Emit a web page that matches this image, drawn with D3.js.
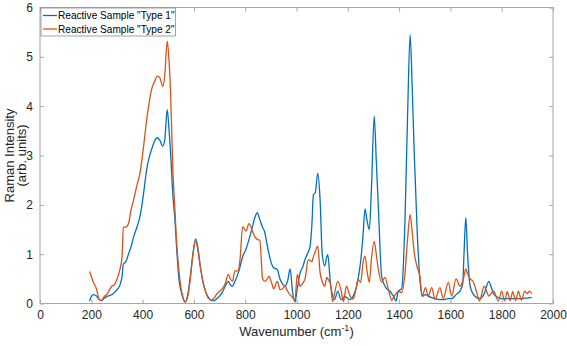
<!DOCTYPE html>
<html><head><meta charset="utf-8">
<script src="https://cdn.jsdelivr.net/npm/d3@7"></script>
<style>body{margin:0;background:#fff}svg{display:block}text{font-family:"Liberation Sans",Arial,sans-serif}</style>
</head><body>
<svg id="c" width="567" height="346"></svg>
<script>
const wavenumber = [193,200,208,220,231,240,250,260,270,280,290,300,312,320,325,335,345,355,365,378,390,403,416,425,435,447,457,468,478,486,496,502,509,518,526,533,543,550,558,566,575,585,595,607,615,625,635,645,657,669,680,690,700,710,722,734,742,750,760,773,780,790,803,815,828,838,847,857,868,876,884,893,903,911,925,936,945,955,965,975,985,994,1003,1014,1025,1033,1046,1053,1060,1066,1073,1083,1092,1100,1110,1118,1122,1132,1141,1148,1161,1174,1183,1187,1195,1209,1221,1232,1240,1250,1260,1267,1276,1284,1292,1303,1311,1319,1332,1345,1358,1365,1371,1378,1388,1397,1410,1423,1433,1443,1451,1459,1471,1481,1490,1503,1514,1527,1540,1559,1572,1592,1605,1622,1637,1648,1653,1660,1667,1677,1688,1703,1713,1732,1741,1750,1758,1768,1787,1800,1811,1822,1833,1843,1854,1865,1877,1890,1900,1908,1917];
const type1 = [0.05,0.14,0.18,0.15,0.08,0.06,0.1,0.14,0.16,0.18,0.22,0.28,0.38,0.55,0.8,0.85,1.0,1.15,1.35,1.55,1.77,2.2,2.72,2.95,3.12,3.3,3.36,3.3,3.19,3.3,3.93,3.6,3.06,2.2,1.7,1.1,0.43,0.25,0.1,0.03,0.15,0.5,0.95,1.31,1.15,0.75,0.45,0.25,0.12,0.06,0.06,0.1,0.15,0.22,0.35,0.45,0.38,0.35,0.45,0.62,0.75,0.95,1.1,1.3,1.55,1.75,1.84,1.7,1.54,1.45,1.23,1.0,0.8,0.72,0.69,0.49,0.4,0.35,0.45,0.7,0.22,0.03,0.3,0.62,0.75,0.89,1.05,1.16,1.6,2.21,2.24,2.64,2.1,1.03,0.76,0.95,0.99,0.43,0.15,0.08,0.25,0.08,0.1,0.15,0.12,0.08,0.15,0.3,0.5,0.85,1.43,1.92,1.65,1.5,2.3,3.8,2.9,1.97,0.55,0.35,0.27,0.25,0.2,0.15,0.05,0.25,0.3,1.7,3.8,5.45,4.4,3.05,1.4,0.5,0.15,0.18,0.15,0.12,0.1,0.08,0.08,0.1,0.1,0.18,0.25,0.4,1.0,1.74,1.0,0.35,0.2,0.12,0.1,0.2,0.35,0.45,0.35,0.2,0.12,0.1,0.1,0.1,0.1,0.1,0.1,0.1,0.1,0.11,0.11,0.12,0.12];
const type2 = [0.65,0.55,0.43,0.3,0.08,0.06,0.14,0.18,0.27,0.35,0.38,0.49,0.7,0.95,1.55,1.55,1.62,1.9,2.1,2.4,2.65,3.15,3.73,4.05,4.34,4.5,4.61,4.57,4.4,4.6,5.32,5.0,4.3,2.7,1.9,1.2,0.6,0.3,0.12,0.03,0.12,0.45,0.95,1.27,1.1,0.75,0.45,0.25,0.1,0.07,0.12,0.2,0.25,0.3,0.4,0.59,0.5,0.45,0.66,0.66,0.9,1.56,1.47,1.62,1.47,1.35,1.3,1.28,0.5,0.45,0.48,0.55,0.42,0.3,0.45,0.28,0.3,0.35,0.25,0.18,0.12,0.07,0.59,0.35,0.42,0.49,0.89,0.87,0.85,0.95,1.05,1.16,0.62,0.45,0.35,0.53,0.5,0.4,0.04,0.2,0.45,0.26,0.04,0.15,0.35,0.15,0.09,0.3,0.49,0.43,0.85,0.96,0.62,0.43,0.9,1.26,1.0,0.69,0.43,0.53,0.29,0.15,0.06,0.12,0.2,0.25,0.22,0.62,1.3,1.8,1.45,1.03,0.73,0.55,0.15,0.32,0.15,0.32,0.08,0.32,0.1,0.43,0.15,0.5,0.35,0.45,0.55,0.7,0.6,0.5,0.45,0.22,0.05,0.35,0.25,0.15,0.2,0.25,0.05,0.25,0.06,0.24,0.06,0.24,0.06,0.25,0.07,0.25,0.2,0.25,0.2];
const seriesNames = ['Reactive Sample "Type 1"', 'Reactive Sample "Type 2"'];
const seriesColors = ["#0072BD", "#D95319"];
const xTicks = [0,200,400,600,800,1000,1200,1400,1600,1800,2000];
const yTicks = [0,1,2,3,4,5,6];

const svg = d3.select("#c");
const L = 40, R = 553, T = 7.5, B = 303.5;
const x = d3.scaleLinear().domain([0, 2000]).range([L, R]);
const y = d3.scaleLinear().domain([0, 6]).range([B, T]);
const axisCol = "#a6a6a6", textCol = "#262626";

svg.append("rect").attr("x", L).attr("y", T).attr("width", R - L).attr("height", B - T)
  .attr("fill", "none").attr("stroke", axisCol).attr("stroke-width", 1);

function styleAxis(g) {
  g.select(".domain").remove();
  g.selectAll("line").attr("stroke", axisCol);
  g.selectAll("text").attr("fill", textCol).style("font-size", "12px");
}
const fmt = d3.format("d");
svg.append("g").attr("transform", `translate(0,${B})`)
  .call(d3.axisBottom(x).tickValues(xTicks).tickFormat(fmt).tickSize(-4).tickPadding(7)).call(styleAxis);
svg.append("g").attr("transform", `translate(0,${T})`)
  .call(d3.axisTop(x).tickValues(xTicks).tickSize(-4).tickFormat("")).call(styleAxis);
svg.append("g").attr("transform", `translate(${L},0)`)
  .call(d3.axisLeft(y).tickValues(yTicks).tickFormat(fmt).tickSize(-4).tickPadding(7)).call(styleAxis);
svg.append("g").attr("transform", `translate(${R},0)`)
  .call(d3.axisRight(y).tickValues(yTicks).tickSize(-4).tickFormat("")).call(styleAxis);

const series = [type1, type2];
const line = d3.line().x((d, i) => x(wavenumber[i])).y(d => y(d)).curve(d3.curveMonotoneX);
series.forEach((s, k) => {
  svg.append("path").datum(s).attr("d", line).attr("fill", "none")
    .attr("stroke", seriesColors[k]).attr("stroke-width", 1.3).attr("stroke-linejoin", "round");
});

const xt = svg.append("text").attr("x", (L + R) / 2).attr("y", 336).attr("text-anchor", "middle")
  .attr("fill", textCol).style("font-size", "13px");
xt.append("tspan").text("Wavenumber (cm");
xt.append("tspan").text("-1").attr("dy", -5).style("font-size", "9px");
xt.append("tspan").text(")").attr("dy", 5);

const yt = svg.append("text").attr("transform", `translate(13.5,${(T + B) / 2}) rotate(-90)`)
  .attr("text-anchor", "middle").attr("fill", textCol).style("font-size", "13px");
yt.append("tspan").attr("x", 0).attr("dy", 0).text("Raman Intensity");
yt.append("tspan").attr("x", 0).attr("dy", 12.5).text("(arb. units)");

const lg = svg.append("g");
lg.append("rect").attr("x", 41).attr("y", 8).attr("width", 134.5).attr("height", 28)
  .attr("fill", "#fff").attr("stroke", "#8c8c8c").attr("stroke-width", 0.8);
seriesNames.forEach((n, k) => {
  const yy = 15.5 + k * 13.5;
  lg.append("line").attr("x1", 43).attr("x2", 57).attr("y1", yy).attr("y2", yy)
    .attr("stroke", seriesColors[k]).attr("stroke-width", 1.3);
  lg.append("text").attr("x", 58).attr("y", yy + 3.6).text(n).attr("fill", "#000").style("font-size", "10.1px");
});
</script>
</body></html>
